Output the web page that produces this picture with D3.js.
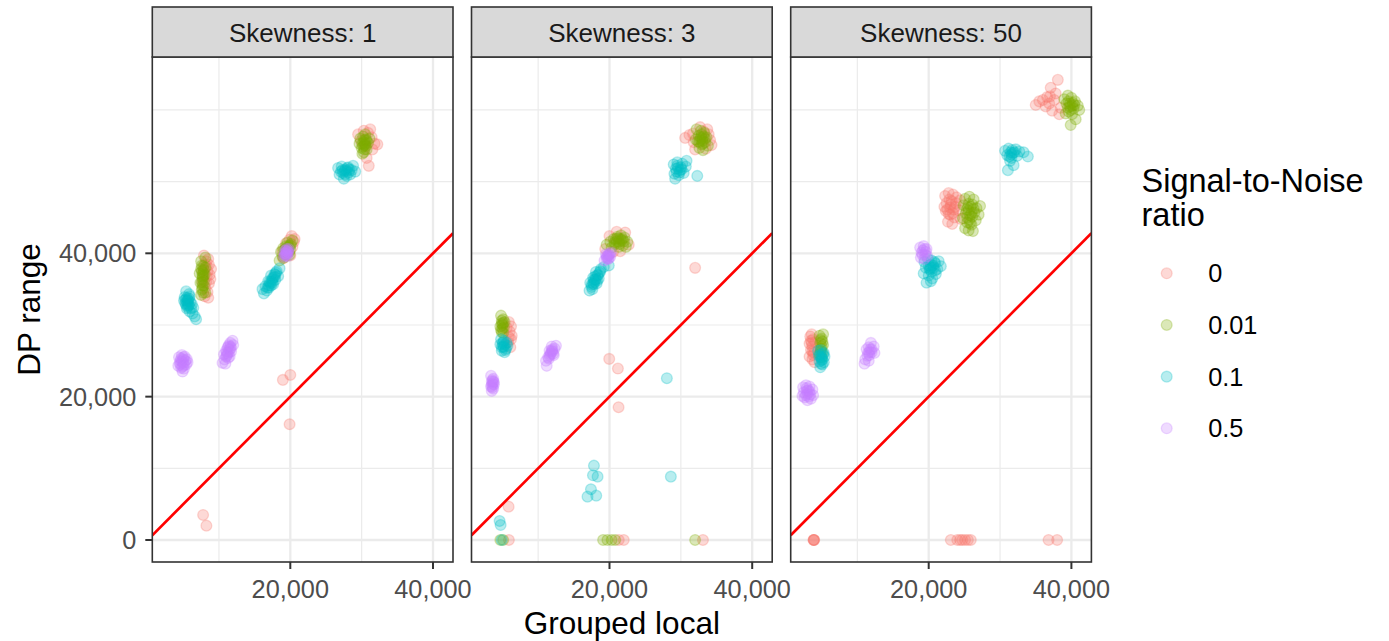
<!DOCTYPE html>
<html><head><meta charset="utf-8">
<script src="https://cdn.jsdelivr.net/npm/d3@7"></script>
<style>body{margin:0;background:#fff;} svg{display:block;font-family:"Liberation Sans",Arial,Helvetica,sans-serif;}</style>
</head><body><svg id="chart" width="1389" height="641"></svg>
<script>
// ---------------- data ----------------
const skewLevels = ["1", "3", "50"];
const snrLevels = ["0", "0.01", "0.1", "0.5"];
const snrColors = ["#F8766D", "#7CAE00", "#00BFC4", "#C77CFF"];
const xTickValues = [20000, 40000];
const xMinorValues = [10000, 30000];
const yTickValues = [0, 20000, 40000];
const yMinorValues = [10000, 30000, 50000, 60000];

// Skewness 1
const skew1_snr0 = [
  [7900,39700],[8500,39200],[8300,38200],[8700,37000],[8600,35800],[8400,34600],[8800,36400],[7800,37600],[8100,35200],[8500,33800],[7700,36000],[8900,37800],[8000,34000],[8200,38900],
  [8300,36800],[8400,37500],[8200,36000],[8600,38400],[8000,38400],
  [20200,42400],[19900,41900],[20500,41600],[20300,40900],[19400,41400],[18900,40300],[20600,42000],[20000,39700],[19000,39300],
  [30300,57100],[30900,56800],[31400,56200],[31800,55300],[31500,54500],[30700,53300],[31000,52200],[29500,56600],[31200,57300],[30600,54900],[32200,55200],[29900,55700],
  [18960,22340],[20000,23030],[19900,16150],[7780,3490],[8240,2000]
];
const skew1_snr001 = [
  [7500,38900],[7800,38200],[7600,37500],[8000,37000],[7700,36400],[7400,35900],[7900,35500],[7600,34900],[8100,34500],[7500,34200],[7800,36800],[8100,38000],[7300,37200],[7700,35100],[8100,39400],
  [7600,36000],[7700,36700],[7800,37300],[7500,37800],[7900,36100],[7700,35500],[7600,38300],[7800,34500],[7700,37000],[7900,37700],
  [18500,39000],[18900,39600],[19300,40200],[19700,40800],[20100,41300],[19000,40700],[19600,41500],[20000,40500],[18700,40200],[19400,41000],[20300,41800],[19900,39800],
  [19200,40500],[19500,40700],[19800,41000],[19300,39900],[19600,40300],[20000,41100],[19100,39400],[19800,40200],
  [29800,56000],[30200,56300],[30600,55900],[30900,55400],[30400,55100],[30000,54700],[30700,54500],[30300,54100],[29700,55300],[31100,56000],[30500,56600],[30100,53900],
  [30300,55500],[30500,55300],[30400,55800],[30200,54900],[30600,55000],[30700,55700],[30100,55300],[30400,54500]
];
const skew1_snr01 = [
  [5400,34700],[5800,34300],[5200,33900],[5600,33500],[6000,33200],[5300,33000],[5700,32700],[6200,32900],[5500,32300],[5900,31900],[6300,31600],[6600,31200],[6800,30800],[5100,33400],[6400,32400],[5900,34000],
  [5500,33300],[5600,33000],[5400,32800],[5700,33400],[5800,32800],[5500,33800],[5300,33500],[5600,32500],[5800,33700],[6100,32300],
  [16300,34400],[16700,34800],[16500,35400],[17000,35200],[17200,35800],[16900,36100],[17500,36400],[17300,36900],[17800,37100],[18100,37500],[18500,37900],[17600,35700],[18300,36800],[16100,35000],[17900,36300],
  [17000,35500],[17300,35500],[17400,36100],[17600,36600],[17800,36700],[17100,36000],[17900,37000],[16800,35200],[18000,37300],[17500,35900],
  [26700,51900],[27200,52100],[27700,51700],[28100,52000],[28600,51600],[29100,51400],[27400,51200],[27900,50800],[28400,51000],[26900,51000],[28800,52200],[27500,50400],
  [27600,51500],[27900,51500],[28200,51300],[27300,51600],[28000,51900],[27700,51000],[28300,51700],[27100,51400]
];
const skew1_snr05 = [
  [4400,25500],[4800,25800],[5200,25600],[5500,25200],[4600,25000],[5000,24700],[5400,24500],[4300,24300],[4700,24000],[5100,23900],[4900,23500],[5600,24800],[4500,24700],
  [4800,24900],[5000,25200],[4700,25300],[5100,24400],[4900,24200],[5300,25000],[4600,24500],[5000,25500],
  [10500,24700],[10800,25200],[10700,25900],[11100,25700],[11000,26400],[11400,26200],[11300,27000],[11700,26800],[11600,27500],[11900,27800],[10900,24600],[11500,25600],[12000,27200],[11200,26800],
  [11200,26000],[11300,25400],[11500,26600],[11400,27200],[11000,25600],[11700,26300],[11100,26200],[11600,27000],
  [19100,39500],[19400,39800],[19700,40100],[19300,40400],[19600,39600],[19800,40600],[19200,40000],[19500,40300],
  [19400,40000],[19500,39900],[19600,40200],[19300,39700],[19500,40600],[19700,40400]
];

// Skewness 3
const skew3_snr0 = [
  [30600,56100],[31200,56500],[31800,55500],[33900,56600],[33500,54600],[32000,54500],[34100,55800],[32700,57600],[33200,57000],
  [33700,57300],[34300,55100],[31700,56700],
  [19400,40600],[20000,42400],[21000,43000],[22200,42900],[22700,41200],[20500,40200],[21500,40300],
  [5900,30400],[6200,29800],[6000,29100],[6300,28500],[5800,27600],[6100,26900],[5600,29600],[6200,28000],[5900,28300],
  [19960,25270],[21180,23920],[21270,18520],[32000,37970],[5860,4650],
  [5900,0],[21300,0],[22000,0],[33100,0]
];
const skew3_snr001 = [
  [32200,57300],[32800,57100],[33300,56800],[32500,56400],[33000,56000],[33600,56200],[32400,55600],[32900,55200],[33400,55500],[32600,54700],[33100,54400],[33800,55000],[32100,55900],
  [32800,56200],[33000,55700],[32700,55900],[33200,56300],[32900,56600],[33100,55300],[32600,55500],[33400,56000],
  [19600,41200],[20100,41600],[20600,42000],[21100,42300],[21600,42500],[22100,42200],[22500,41600],[21900,41100],[21300,40900],[20800,41300],[20300,40800],[21700,41800],[22300,40900],
  [21000,41700],[21300,41600],[20700,41500],[21500,42000],[21200,42100],[21800,42000],[20900,42000],[21400,41300],[22000,41700],
  [4800,31300],[5100,30800],[4900,30200],[5200,29700],[4800,29300],[5100,28900],[5300,30400],[4700,29800],
  [5000,30000],[4900,30600],[5000,29500],[4900,29000],[5100,30300],
  [4700,0],[5100,0],[19100,0],[19700,0],[20300,0],[20800,0],[32000,0]
];
const skew3_snr01 = [
  [29000,52400],[29500,52700],[30200,52500],[30700,52100],[29300,51800],[29900,51600],[30400,51200],[29100,51100],[29700,50900],[29200,50400],[32300,50800],[30800,52900],
  [29600,51900],[29800,51300],[30000,52000],[29400,51400],[30100,51700],[29500,52200],
  [17200,34800],[17500,35300],[17300,35900],[17800,35700],[18000,36300],[17700,36600],[18300,36900],[18100,37400],[18600,37300],[18800,37800],[19200,38100],[17600,35000],[18500,36500],[19900,38300],[18200,35800],
  [17900,36000],[18100,36400],[17700,35800],[18400,37000],[18000,36800],[17500,35600],[18700,37500],[17800,36300],[18300,36200],
  [4800,28000],[5200,27800],[5600,27500],[4700,27300],[5100,27000],[5500,26700],[4900,26400],[5300,26200],[5700,27100],
  [5000,27400],[5200,26900],[5100,27600],[4900,26900],[5300,27300],[5400,26500],
  [28040,22570],[28600,8840],[17820,10370],[17680,9030],[18330,8840],[17400,7080],[16920,6050],[18140,6190],[4600,2650],[4740,2090],
  [4900,0]
];
const skew3_snr05 = [
  [19300,39000],[19600,39300],[19900,39700],[20200,40100],[19500,39900],[19800,39200],[20100,39500],
  [19700,39500],[19800,39800],[19600,39600],[19900,39300],[20000,39900],
  [3400,22900],[3700,22500],[3500,22100],[3800,21700],[3400,21400],[3700,21100],[3500,20800],[3800,22000],
  [3600,21800],[3600,22300],[3600,21300],[3500,21600],[3700,22100],
  [11100,25000],[11400,25500],[11700,25900],[12000,26300],[12300,26700],[12500,27100],[11900,27000],[11200,24300],[11600,26400],[12200,25800],
  [11800,26100],[12000,26600],[11600,25700],[12100,26000],[11900,26400],[11500,25300]
];

// Skewness 50
const skew50_snr0 = [
  [38100,64200],[37100,63100],[37800,62300],[36000,61400],[35000,60700],[36400,60500],[37600,61400],[38500,60300],[35500,61200],[36900,60900],[38300,59400],[37300,59900],
  [37000,61900],[36600,61800],
  [22300,48000],[22800,48400],[23400,48200],[23900,47800],[24400,47400],[22500,47000],[23100,46800],[23700,46500],[22400,45900],[23000,45400],[23600,45000],[22700,44400],[23300,44100],[24200,46000],[24500,44800],[22200,46500],
  [23200,47300],[23000,46400],[23500,46100],[22800,45500],[23400,45600],[22900,47500],[23800,47000],[22600,46100],
  [3400,28400],[3800,28000],[3300,27400],[3700,27000],[4100,27600],[3500,26500],[3900,26100],[3300,25600],[3700,25200],[4000,24800],[3600,28700],
  [3600,27500],[3700,26300],[3500,27800],[3800,25800],
  [3900,0],[3900,0],[3950,0],[3850,0],
  [23100,0],[24000,0],[24400,0],[24700,0],[25100,0],[25500,0],[25900,0],[36800,0],[38000,0]
];
const skew50_snr001 = [
  [39000,61500],[39500,62000],[40000,61700],[40500,61200],[39300,60900],[39800,60500],[40300,60200],[40900,60600],[39600,59800],[40100,59400],[39200,59500],[41100,60000],[39900,57900],[40600,58700],
  [39800,60900],[40100,60600],[39600,61200],[40200,61000],[39900,60000],[40400,60700],[39500,60300],
  [25100,47600],[25700,47900],[26300,47500],[24900,46700],[25500,46400],[26100,46800],[26700,46300],[25200,45600],[25800,45300],[26400,45700],[27000,45400],[24800,44900],[25400,44300],[26000,44000],[26600,44600],[25600,43200],[25100,43500],[26200,43100],[27200,46600],
  [25600,46000],[25900,46500],[25400,45000],[26100,45100],[25700,44700],[25300,46100],[26300,46200],[25800,44200],[25600,46900],[26000,45600],
  [4700,28500],[5000,28100],[4800,27500],[5200,27200],[4900,26700],[5100,26200],[4700,25900],[5000,25500],[5200,28700],
  [4900,27900],[5000,27000],[4900,26300],[5100,27700]
];
const skew50_snr01 = [
  [30700,54300],[31200,54600],[31700,54400],[32200,54500],[32700,54200],[33300,54100],[33900,53500],[31000,53700],[31600,53800],[31400,52900],[31900,52300],[31100,51600],[32400,53600],
  [31500,54100],[31800,54000],[31300,53500],[32000,54100],[31600,53300],
  [19400,38800],[19900,39200],[20400,39000],[20900,38600],[21400,38900],[19600,38000],[20200,37700],[20700,38000],[21200,37800],[21700,38200],[19300,37200],[20000,36900],[20500,36500],[21000,37100],[19700,35900],[20300,36100],
  [20300,38400],[20600,38300],[20000,38300],[20900,37600],[20400,37400],[20100,37900],[20800,38800],[20300,38000],
  [4500,26400],[4900,26500],[5300,26100],[4600,25700],[5000,25400],[5400,25600],[4700,24900],[5100,24500],[4800,24100],[5300,24800],
  [4900,25900],[5000,25100],[4800,25600],[5100,25200],[4900,24600],[5200,25900]
];
const skew50_snr05 = [
  [18800,40800],[19300,41000],[19700,40600],[19000,40100],[19500,39800],[18900,39400],[19400,39200],[19800,39600],
  [19200,40400],[19400,40600],[19100,39800],[19600,40200],
  [2400,21300],[2800,21600],[3300,21400],[3700,21000],[2500,20600],[2900,20800],[3400,20300],[2600,19900],[3000,19500],[3500,19700],[3800,20200],[2300,20100],
  [3000,20400],[3100,20900],[2800,20200],[3300,20700],[2900,21200],[3200,20000],
  [11100,25200],[11400,25700],[11700,26200],[12000,26600],[12300,27000],[11900,27500],[11300,26600],[11000,24600],[11600,25000],[12400,26100],
  [11700,25800],[11800,26600],[11500,26100],[12000,26200],[11600,26900]
];

const panelSeries = [
  [skew1_snr0, skew1_snr001, skew1_snr01, skew1_snr05],
  [skew3_snr0, skew3_snr001, skew3_snr01, skew3_snr05],
  [skew50_snr0, skew50_snr001, skew50_snr01, skew50_snr05]
];

// ---------------- layout ----------------
const panelTop = 57, panelH = 505, panelW = 300.7;
const panelLeft0 = 152.3, panelStep = 319.2;
const stripH = 50;
const svg = d3.select("#chart");

const x = d3.scaleLinear().domain([659, 42803]).range([0, panelW]);
const y = d3.scaleLinear().domain([-3070, 67390]).range([panelH, 0]);
const color = d3.scaleOrdinal().domain(snrLevels).range(snrColors);
const fmt = d3.format(",");

const ptR = 5.4, ptAlpha = 0.28;

svg.append("defs").append("clipPath").attr("id", "pclip")
  .append("rect").attr("width", panelW).attr("height", panelH);

skewLevels.forEach((sk, i) => {
  const g = svg.append("g").attr("transform", `translate(${panelLeft0 + i * panelStep},${panelTop})`);
  g.append("rect").attr("width", panelW).attr("height", panelH).attr("fill", "#fff");

  g.selectAll(".vminor").data(xMinorValues).join("line")
    .attr("x1", d => x(d)).attr("x2", d => x(d)).attr("y1", 0).attr("y2", panelH)
    .attr("stroke", "#EBEBEB").attr("stroke-width", 1.2);
  g.selectAll(".hminor").data(yMinorValues).join("line")
    .attr("y1", d => y(d)).attr("y2", d => y(d)).attr("x1", 0).attr("x2", panelW)
    .attr("stroke", "#EBEBEB").attr("stroke-width", 1.2);
  g.selectAll(".vmajor").data(xTickValues).join("line")
    .attr("x1", d => x(d)).attr("x2", d => x(d)).attr("y1", 0).attr("y2", panelH)
    .attr("stroke", "#EBEBEB").attr("stroke-width", 2.3);
  g.selectAll(".hmajor").data(yTickValues).join("line")
    .attr("y1", d => y(d)).attr("y2", d => y(d)).attr("x1", 0).attr("x2", panelW)
    .attr("stroke", "#EBEBEB").attr("stroke-width", 2.3);

  const pg = g.append("g").attr("clip-path", "url(#pclip)");
  panelSeries[i].forEach((pts, j) => {
    pg.append("g").selectAll("circle").data(pts).join("circle")
      .attr("cx", d => x(d[0])).attr("cy", d => y(d[1])).attr("r", ptR)
      .attr("fill", color(snrLevels[j])).attr("fill-opacity", ptAlpha)
      .attr("stroke", color(snrLevels[j])).attr("stroke-opacity", ptAlpha).attr("stroke-width", 1.3);
  });

  const dom = x.domain();
  pg.append("line")
    .attr("x1", x(dom[0])).attr("y1", y(dom[0]))
    .attr("x2", x(dom[1])).attr("y2", y(dom[1]))
    .attr("stroke", "#FF0000").attr("stroke-width", 2.7);

  g.append("rect").attr("width", panelW).attr("height", panelH)
    .attr("fill", "none").attr("stroke", "#333333").attr("stroke-width", 1.6);

  g.append("rect").attr("y", -stripH).attr("width", panelW).attr("height", stripH)
    .attr("fill", "#D9D9D9").attr("stroke", "#333333").attr("stroke-width", 1.6);
  g.append("text").attr("x", panelW / 2).attr("y", -stripH / 2 + 9.5)
    .attr("text-anchor", "middle").attr("font-size", 26).attr("fill", "#1A1A1A")
    .text("Skewness: " + sk);

  const xa = g.append("g").attr("transform", `translate(0,${panelH})`);
  xa.selectAll("line").data(xTickValues).join("line")
    .attr("x1", d => x(d)).attr("x2", d => x(d)).attr("y1", 0).attr("y2", 7)
    .attr("stroke", "#333333").attr("stroke-width", 2);
  xa.selectAll("text").data(xTickValues).join("text")
    .attr("x", d => x(d)).attr("y", 36).attr("text-anchor", "middle")
    .attr("font-size", 25.3).attr("fill", "#4D4D4D").text(d => fmt(d));

  if (i === 0) {
    const ya = g.append("g");
    ya.selectAll("line").data(yTickValues).join("line")
      .attr("x1", -7).attr("x2", 0).attr("y1", d => y(d)).attr("y2", d => y(d))
      .attr("stroke", "#333333").attr("stroke-width", 2);
    ya.selectAll("text").data(yTickValues).join("text")
      .attr("x", -16).attr("y", d => y(d) + 9).attr("text-anchor", "end")
      .attr("font-size", 25.3).attr("fill", "#4D4D4D").text(d => fmt(d));
  }
});

svg.append("text").attr("x", panelLeft0 + panelStep + panelW / 2).attr("y", 634)
  .attr("text-anchor", "middle").attr("font-size", 31.5).attr("fill", "#000").text("Grouped local");
svg.append("text").attr("transform", `translate(40,${panelTop + panelH / 2}) rotate(-90)`)
  .attr("text-anchor", "middle").attr("font-size", 31.5).attr("fill", "#000").text("DP range");

const lg = svg.append("g");
lg.append("text").attr("x", 1141.5).attr("y", 192).attr("font-size", 32.5).attr("fill", "#000").text("Signal-to-Noise");
lg.append("text").attr("x", 1141.5).attr("y", 226).attr("font-size", 32.5).attr("fill", "#000").text("ratio");
const legendY = d3.scalePoint().domain(snrLevels).range([273.3, 428.3]);
const items = lg.selectAll(".item").data(snrLevels).join("g")
  .attr("transform", d => `translate(1166.7,${legendY(d)})`);
items.append("circle").attr("r", ptR)
  .attr("fill", d => color(d)).attr("fill-opacity", ptAlpha)
  .attr("stroke", d => color(d)).attr("stroke-opacity", ptAlpha).attr("stroke-width", 1.3);
items.append("text").attr("x", 41.5).attr("y", 9).attr("font-size", 25.3).attr("fill", "#000").text(d => d);
</script>
</body></html>
